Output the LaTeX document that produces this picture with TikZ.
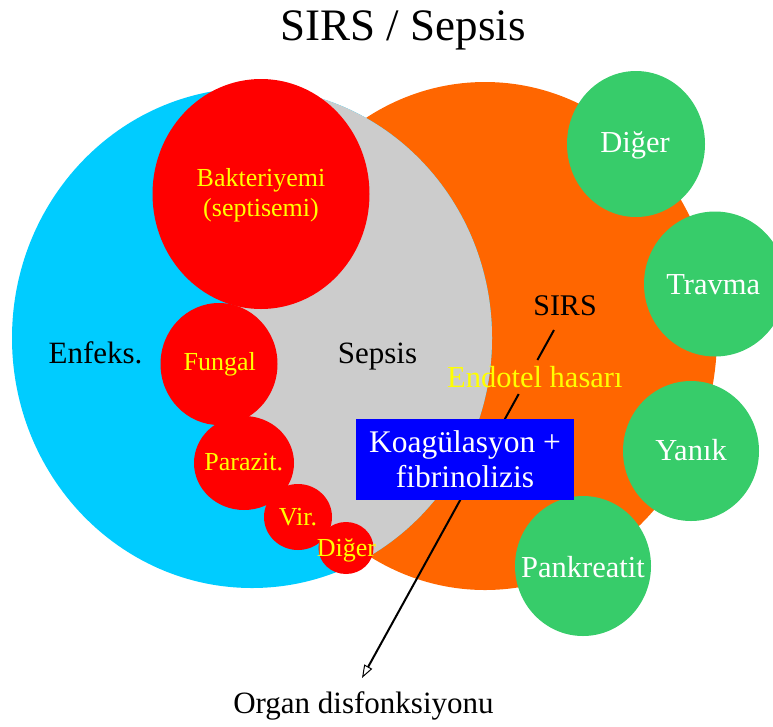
\documentclass[tikz,border=0pt]{standalone}
\usepackage{fontspec}
\setmainfont{Liberation Serif}
\usetikzlibrary{arrows.meta,shapes.geometric}
\definecolor{enfblue}{HTML}{00CCFF}
\definecolor{sepgray}{HTML}{CCCCCC}
\definecolor{sirsorange}{HTML}{FF6600}
\definecolor{infred}{HTML}{FF0000}
\definecolor{srcgreen}{HTML}{37CC6A}
\definecolor{txtyellow}{HTML}{FFFF00}
\definecolor{boxblue}{HTML}{0000FF}
\tikzset{
  redc/.style={ellipse, fill=infred, inner sep=0pt},
  greenc/.style={ellipse, fill=srcgreen, inner sep=0pt},
  ytext/.style={inner sep=0pt, text=txtyellow, align=center, font=\fontsize{26}{30.5}\selectfont},
  wtext/.style={inner sep=0pt, text=white, font=\fontsize{30.5}{33}\selectfont},
  btext/.style={inner sep=0pt, text=black, font=\fontsize{31}{34}\selectfont},
  conn/.style={line width=2pt, black},
}
\begin{document}
\begin{tikzpicture}[x=1pt,y=-1pt]
\useasboundingbox (0,0) rectangle (773,726);
\clip (0,0) rectangle (773,726);
% SIRS (orange) region
\fill[sirsorange] (485,336) ellipse [x radius=232pt, y radius=254pt];
% Infection (blue) region
\fill[enfblue] (252,338) ellipse [x radius=240pt, y radius=250pt];
% Sepsis (gray) part of the infection region
\begin{scope}
  \clip (252,338) ellipse [x radius=240pt, y radius=250pt];
  \fill[sepgray] (261,40) -- (261,194) -- (219,364) -- (244,463) -- (298,517) -- (346,548) -- (346,720) -- (800,720) -- (800,40) -- cycle;
\end{scope}
% red circles
\node[redc, minimum width=217pt, minimum height=230pt] (bak) at (261,194) {};
\node[redc, minimum width=117pt, minimum height=122pt] (fun) at (219,364) {};
\node[redc, minimum width=100pt, minimum height=94pt] (par) at (244,463) {};
\node[redc, minimum width=68pt, minimum height=66pt] (vir) at (298,517) {};
\node[redc, minimum width=55pt, minimum height=52pt] (dig) at (346,548) {};
% green circles
\node[greenc, minimum width=138pt, minimum height=146pt] (gdig) at (636,144) {};
\node[greenc, minimum width=142pt, minimum height=145pt] (trav) at (715,284) {};
\node[greenc, minimum width=136pt, minimum height=140pt] (yan) at (691,451) {};
\node[greenc, minimum width=136pt, minimum height=140pt] (pank) at (583,566) {};
% texts
\node[inner sep=0pt, anchor=base, font=\fontsize{45}{48}\selectfont] (title) at (403,40) {SIRS / Sepsis};
\node[ytext] (tbak) at (261,195) {Bakteriyemi\\(septisemi)};
\node[ytext, anchor=base] (tfun) at (219.7,370) {Fungal};
\node[ytext, anchor=base] (tpar) at (243.7,470) {Parazit.};
\node[ytext, anchor=base] (tvir) at (298,525) {Vir.};
\node[ytext, anchor=base] (tdig) at (346.5,556.5) {Diğer};
\node[btext, anchor=base] (tenf) at (95.5,363) {Enfeks.};
\node[btext, anchor=base] (tsep) at (377.5,363) {Sepsis};
\node[btext, anchor=base, font=\fontsize{30}{33}\selectfont] (sirs) at (565,315) {SIRS};
\node[inner sep=0pt, anchor=base west, text=txtyellow, font=\fontsize{30.5}{33}\selectfont] (endo) at (447,387) {Endotel hasarı};
\node[wtext, anchor=base] (tgdig) at (635,152.7) {Diğer};
\node[wtext, anchor=base] (ttrav) at (713.3,294.3) {Travma};
\node[wtext, anchor=base] (tyan) at (691,460) {Yanık};
\node[wtext, anchor=base] (tpank) at (583,577) {Pankreatit};
\node[btext, anchor=base] (organ) at (363.5,713) {Organ disfonksiyonu};
% connector chain
\coordinate (l0) at (554,330);
\coordinate (l1) at (537.4,360);
\coordinate (l2) at (518.7,394);
\coordinate (tip) at (362,678);
\draw[conn] (l0) -- (l1);
\draw[conn, -{Triangle[open, length=13pt, width=9pt, line width=1pt]}] (l2) -- (tip);
% coagulation box
\node[fill=boxblue, inner sep=0pt, minimum width=218pt, minimum height=81pt, text=white, align=center, font=\fontsize{31.5}{35.3}\selectfont] (koag) at (465,459.5) {Koagülasyon +\\fibrinolizis};
\end{tikzpicture}
\end{document}
